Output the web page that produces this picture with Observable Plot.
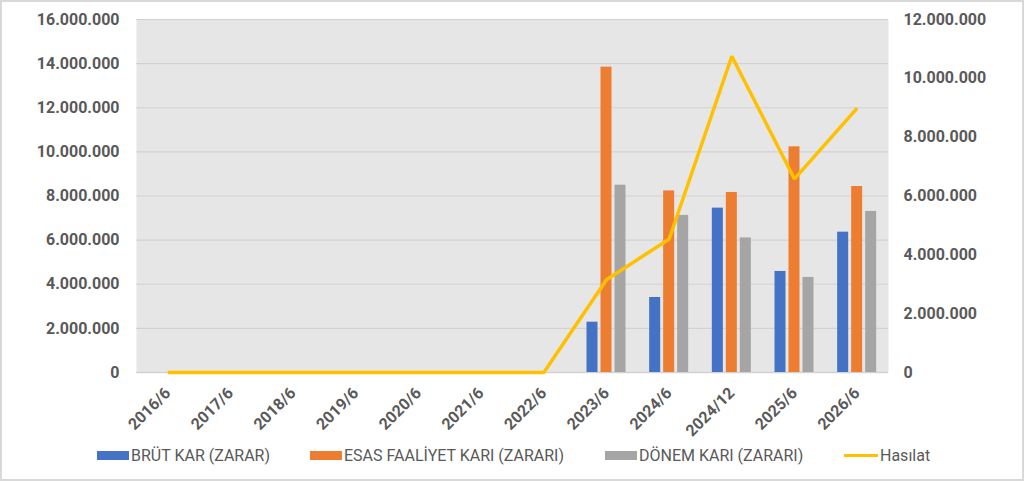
<!DOCTYPE html>
<html>
<head>
<meta charset="utf-8">
<script src="https://cdn.jsdelivr.net/npm/d3@7"></script>
<script src="https://cdn.jsdelivr.net/npm/@observablehq/plot@0.6"></script>
<style>
  html, body { margin: 0; padding: 0; background: #fff; }
  #wrap { position: relative; width: 1024px; height: 481px; overflow: hidden; font-family: Roboto, "Liberation Sans", sans-serif; }
  #chart { position: absolute; left: 0; top: 0; }
  #border { position: absolute; left: 0; top: 0; right: 0; bottom: 0; border: 2px solid #d9d9d9; pointer-events: none; box-sizing: border-box; }
  #legend { position: absolute; left: 0; top: 445px; width: 1024px; height: 20px; }
  .item { position: absolute; top: 0; display: flex; align-items: center; height: 20px; font-size: 16px; color: #595959; white-space: nowrap; }
  .sw { display: inline-block; width: 32px; height: 9px; margin-right: 2px; }
  .ln { display: inline-block; width: 34px; height: 3px; margin-right: 2px; }
</style>
</head>
<body>
<div id="wrap">
  <div id="chart"></div>
  <div id="legend"></div>
  <div id="border"></div>
</div>
<script>
const periods = ["2016/6","2017/6","2018/6","2019/6","2020/6","2021/6","2022/6","2023/6","2024/6","2024/12","2025/6","2026/6"];
const brutKar = [0,0,0,0,0,0,0,2280000,3400000,7450000,4580000,6360000];
const esasFaaliyetKari = [0,0,0,0,0,0,0,13840000,8230000,8160000,10230000,8430000];
const donemKari = [0,0,0,0,0,0,0,8490000,7120000,6100000,4310000,7300000];
const hasilat = [0,0,0,0,0,0,0,3150000,4540000,10750000,6580000,8990000];
const seriesNames = ["BRÜT KAR (ZARAR)","ESAS FAALİYET KARI (ZARARI)","DÖNEM KARI (ZARARI)","Hasılat"];
const colors = ["#4472C4","#ED7D31","#A5A5A5","#FFC000"];
const leftTicks = [0,2e6,4e6,6e6,8e6,10e6,12e6,14e6,16e6];
const rightTicks = [0,2e6,4e6,6e6,8e6,10e6,12e6];
const leftMax = 16e6, rightMax = 12e6;

const loc = d3.formatLocale({decimal: ",", thousands: ".", grouping: [3], currency: ["", ""]});
const fmt = loc.format(",");
const ratio = leftMax / rightMax;

const barSeries = [brutKar, esasFaaliyetKari, donemKari];
const bars = [];
barSeries.forEach((arr, s) => arr.forEach((v, i) => { if (v > 0) bars.push({period: periods[i], value: v, s}); }));
const lineData = hasilat.map((v, i) => ({period: periods[i], value: v * ratio}));

const W = 1024, H = 440;
const mL = 136, mR = 136;
const band = (W - mL - mR) / periods.length;
const barW = 11, gap = 3;
const inset = (band - barW) / 2;
const offsets = [-(barW + gap), 0, barW + gap];

const font = "Roboto, 'Liberation Sans', sans-serif";

const chart = Plot.plot({
  width: W,
  height: H,
  marginTop: 19,
  marginBottom: 68,
  marginLeft: mL,
  marginRight: mR,
  style: {fontFamily: font, fontSize: "16px", fontWeight: "bold", color: "#595959", background: "transparent"},
  x: {domain: periods, padding: 0, round: false, label: null},
  y: {domain: [0, leftMax], label: null},
  marks: [
    Plot.frame({fill: "#e6e6e6", stroke: null}),
    Plot.gridY(leftTicks, {stroke: "#d2d2d2", strokeOpacity: 1, strokeWidth: 1.2}),
    Plot.ruleY([0], {stroke: "#d2d2d2", strokeWidth: 1.5}),
    ...[0,1,2].map(s => Plot.barY(bars.filter(d => d.s === s), {
      x: "period", y: "value", fill: colors[s],
      insetLeft: inset, insetRight: inset, dx: offsets[s]
    })),
    Plot.line(lineData, {x: "period", y: "value", stroke: colors[3], strokeWidth: 3.5, strokeLinejoin: "miter", strokeLinecap: "butt"}),
    Plot.axisY(leftTicks, {anchor: "left", tickSize: 0, tickPadding: 17, tickFormat: fmt, label: null, fontSize: 16, fontWeight: "bold", fill: "#595959"}),
    Plot.axisY(rightTicks.map(v => v * ratio), {anchor: "right", tickSize: 0, tickPadding: 15, tickFormat: d => fmt(Math.round(d / ratio)), label: null, fontSize: 16, fontWeight: "bold", fill: "#595959"}),
    Plot.axisX({anchor: "bottom", tickSize: 0, tickPadding: 18, tickRotate: -45, label: null, fontSize: 16, fontWeight: "bold", fill: "#595959"})
  ]
});
document.getElementById("chart").appendChild(chart);

const legend = document.getElementById("legend");
const lefts = [97, 310, 605, 844];
seriesNames.forEach((name, i) => {
  const it = document.createElement("div");
  it.className = "item";
  it.style.left = lefts[i] + "px";
  const sw = document.createElement("span");
  sw.className = i === 3 ? "ln" : "sw";
  sw.style.background = colors[i];
  it.appendChild(sw);
  const t = document.createElement("span");
  t.textContent = name;
  it.appendChild(t);
  legend.appendChild(it);
});
</script>
</body>
</html>
